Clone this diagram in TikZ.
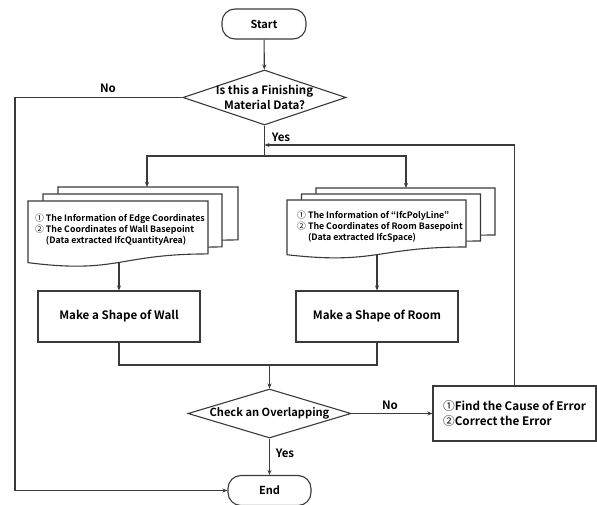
\documentclass[tikz,border=0pt]{standalone}
\usepackage{fontspec}
\setmainfont{Noto Sans CJK KR}[BoldFont={Noto Sans CJK KR Bold}]
\usetikzlibrary{shapes.geometric,arrows.meta}
\definecolor{ln}{HTML}{3A3A3A}
\newcommand{\docshape}[4]{%
  \fill[white] (#1,#2) -- ({#1+#3},#2) -- ({#1+#3},{#2+0.802*#4})
    .. controls ({#1+#3/2},{#2+0.802*#4}) and ({#1+#3/2},{#2+1.108*#4}) .. (#1,{#2+0.934*#4}) -- cycle;
  \draw[line] (#1,#2) -- ({#1+#3},#2) -- ({#1+#3},{#2+0.802*#4})
    .. controls ({#1+#3/2},{#2+0.802*#4}) and ({#1+#3/2},{#2+1.108*#4}) .. (#1,{#2+0.934*#4}) -- cycle;}
\begin{document}
\begin{tikzpicture}[x=1pt,y=-1pt,
  line/.style={draw=ln,line width=1.1pt},
  arr/.style={line,-{Stealth[length=5pt,width=4pt]}},
  term/.style={line,rounded corners=13pt,minimum width=84pt,minimum height=30pt,inner sep=0pt,font=\bfseries\fontsize{11}{13}\selectfont},
  decision/.style={line,diamond,minimum width=163pt,inner sep=0pt},
  proc/.style={line,rectangle,inner sep=0pt},
  lbl/.style={font=\bfseries\fontsize{11.5}{13}\selectfont,text=black},
  doctext/.style={font=\bfseries\fontsize{8.8}{11}\selectfont,align=left,anchor=west,inner sep=0pt},
  ttext/.style={font=\bfseries\fontsize{11.5}{15}\selectfont,align=center,inner sep=0pt}]
\useasboundingbox (0,0) rectangle (597,505);
% terminals
\node[term] (start) at (264,24) {Start};
\node[term,minimum width=83pt] (end) at (269.5,490.5) {End};
% decision 1
\node[decision,minimum height=55pt] (d1) at (264.5,97.5) {};
\node[ttext] (d1t) at (d1.center) {Is this a Finishing\\Material Data?};
% documents
\docshape{58}{187}{180}{66}
\docshape{43}{194}{179}{66}
\docshape{28}{201}{180}{66}
\docshape{316}{188}{179}{58.6}
\docshape{301.5}{194}{179}{58.6}
\docshape{287}{200}{179}{58.6}
\node[doctext] (ldoc) at (35,230) {\textmd{①} The Information of Edge Coordinates\\\textmd{②} The Coordinates of Wall Basepoint\\\phantom{② }(Data extracted IfcQuantityArea)};
\node[doctext] (rdoc) at (297,227) {\textmd{①} The Information of “IfcPolyLine”\\\textmd{②} The Coordinates of Room Basepoint\\\phantom{② }(Data extracted IfcSpace)};
\coordinate (ldoctop) at (147,187);
\coordinate (rdoctop) at (406,188);
\coordinate (ldocbot) at (119,263);
\coordinate (rdocbot) at (377,255);
% processes
\node[proc,minimum width=162pt,minimum height=51pt,font=\bfseries\fontsize{11.6}{14}\selectfont] (wall) at (119,316.5) {Make a Shape of Wall};
\node[proc,minimum width=162pt,minimum height=51pt,font=\bfseries\fontsize{11.6}{14}\selectfont] (room) at (377,316.5) {Make a Shape of Room};
% decision 2
\node[decision,minimum height=49pt] (d2) at (269.5,413.5) {};
\node[ttext,font=\bfseries\fontsize{11.1}{14}\selectfont] (d2t) at (d2.center) {Check an Overlapping};
% error box
\node[proc,minimum width=163pt,minimum height=55pt,align=left,font=\bfseries\fontsize{11.7}{14.5}\selectfont] (err) at (514.5,413.5) {\textmd{①}Find the Cause of Error\\\textmd{②}Correct the Error};
% coordinates
\coordinate (split) at (264.5,156);
\coordinate (fb) at (264.5,145);
\coordinate (nol) at (15,97.5);
\coordinate (mg) at (269.5,365);
% connectors
\draw[arr] (start) -- (d1);
\draw[line] (d1.south) -- (split);
\draw[arr] (split) -| (ldoctop);
\draw[arr] (split) -| (rdoctop);
\draw[arr] (d1.west) -- (nol) |- (end.west);
\draw[arr] (ldocbot) -- (wall.north);
\draw[arr] (rdocbot) -- (room.north);
\draw[line] (wall.south) |- (mg) -| (room.south);
\draw[arr] (mg) -- (d2.north);
\draw[arr] (d2.east) -- (err.west);
\draw[arr] (d2.south) -- (end.north);
\draw[arr] (err.north) |- (fb);
% labels
\node[lbl] (lno1) at (108,88) {No};
\node[lbl] (lyes1) at (281,137) {Yes};
\node[lbl] (lno2) at (390,405) {No};
\node[lbl] (lyes2) at (285,453) {Yes};
\end{tikzpicture}
\end{document}
